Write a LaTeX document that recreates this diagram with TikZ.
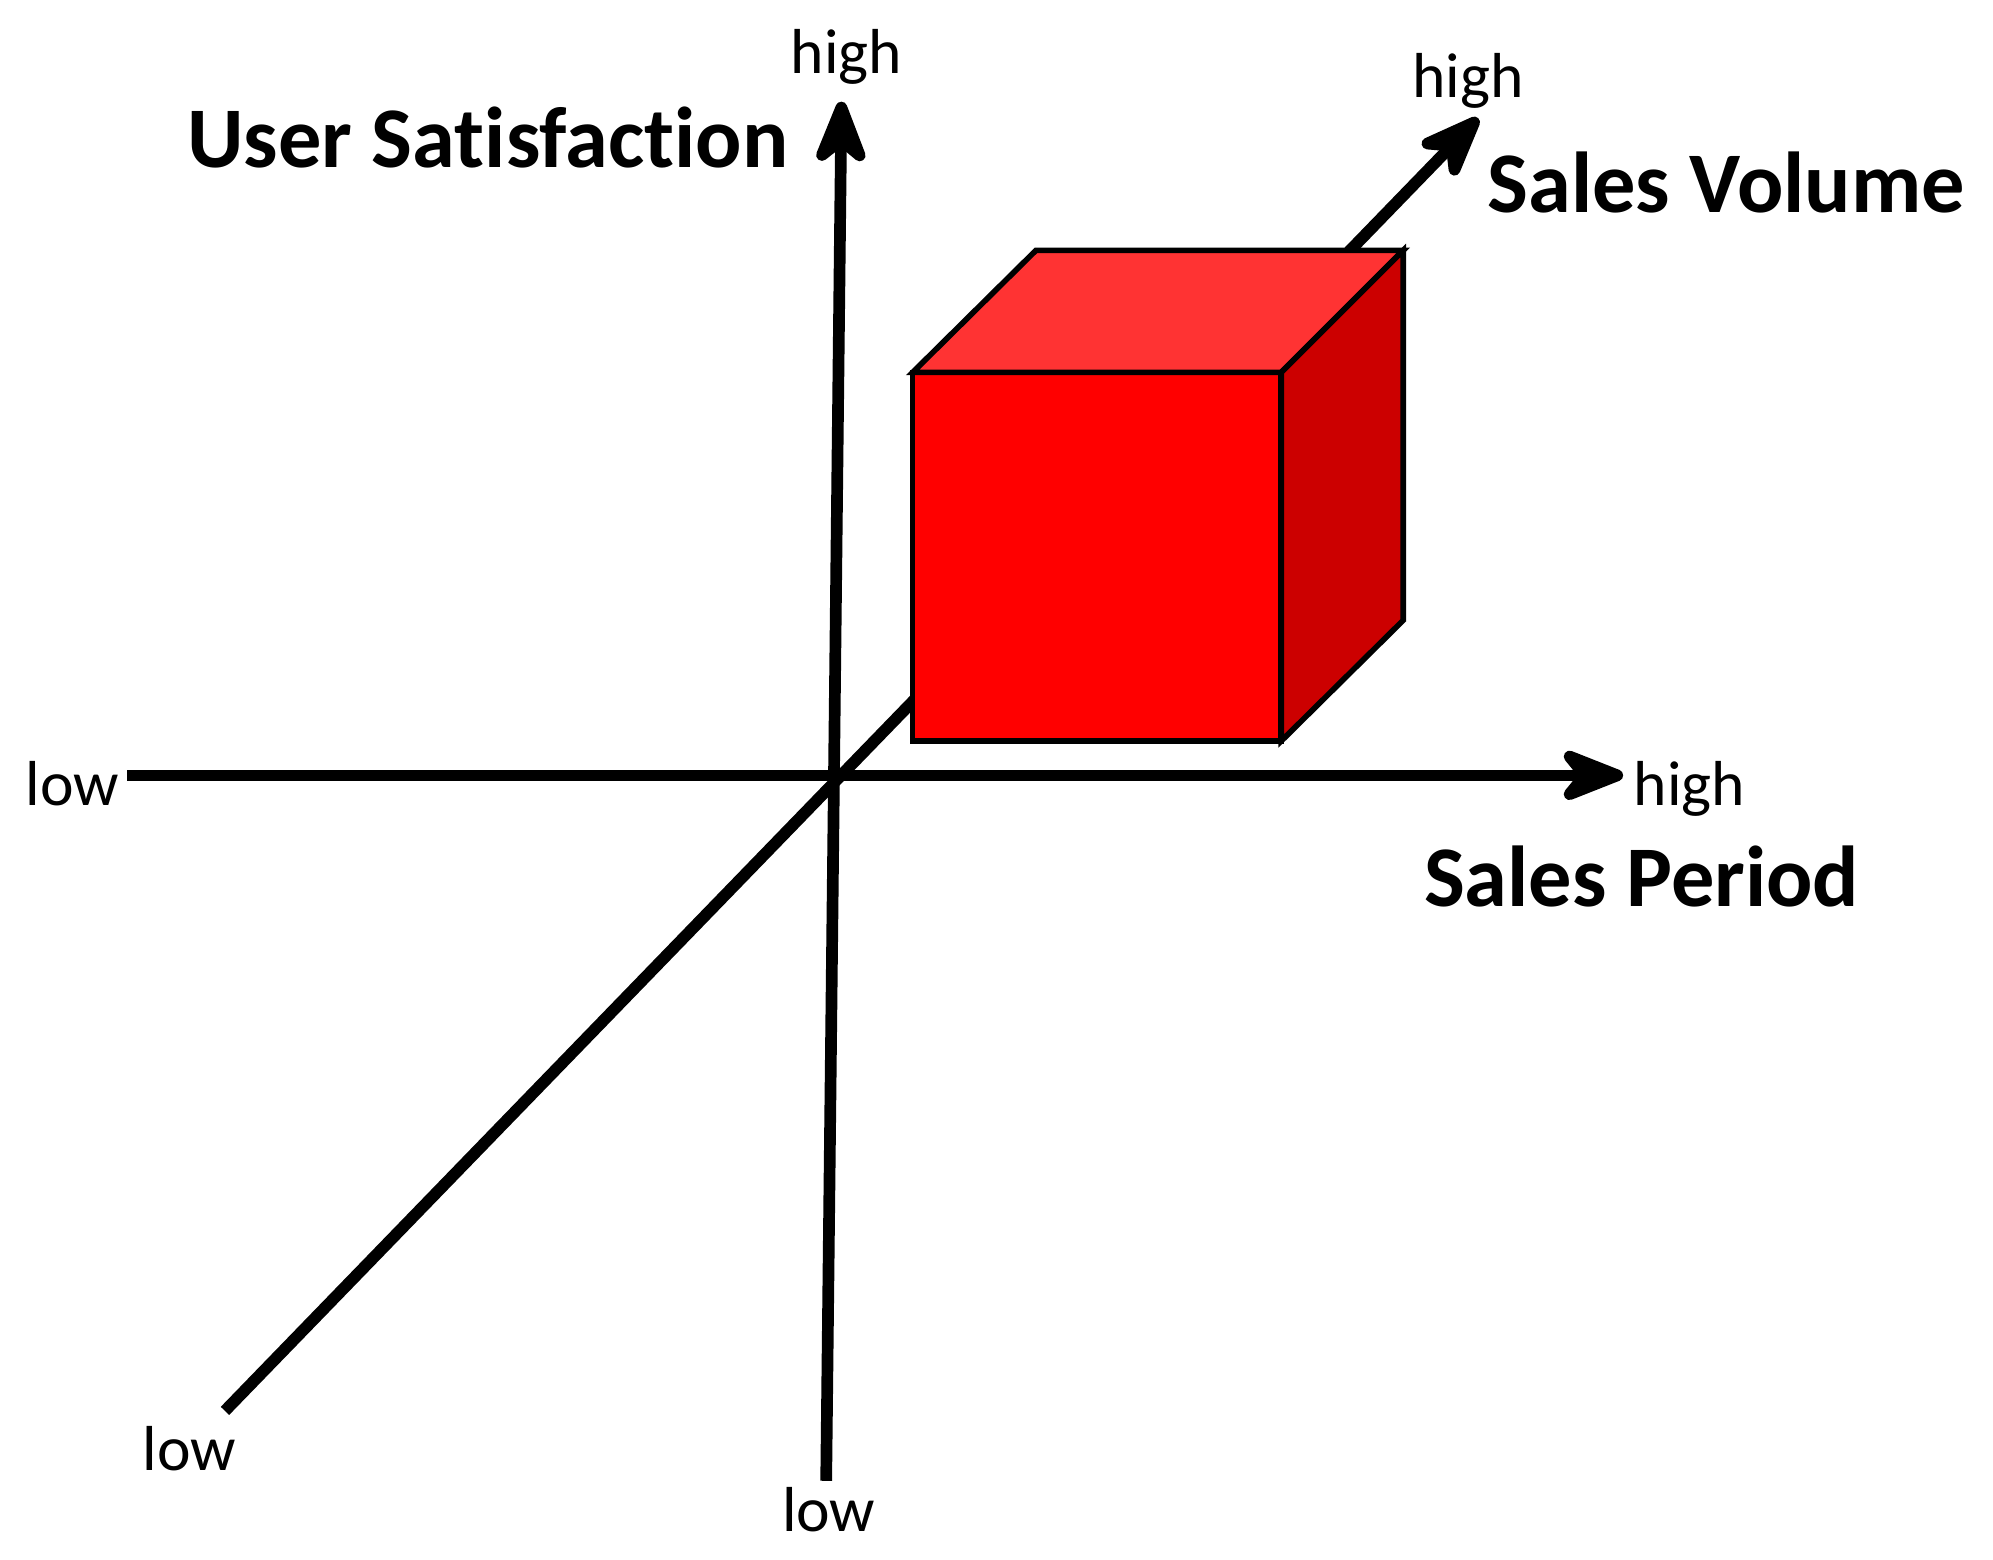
\documentclass[tikz,border=0pt]{standalone}
\usepackage{fontspec}
\setmainfont{Carlito}[RawFeature={-liga;-calt;-dlig}]
\usetikzlibrary{arrows.meta}
\definecolor{frontred}{HTML}{FF0000}
\definecolor{topred}{HTML}{FF3333}
\definecolor{sidered}{HTML}{CC0000}
\begin{document}
\begin{tikzpicture}[x=0.5pt,y=-0.5pt,
  axisline/.style={line width=4.6pt},
  axisarrow/.style={axisline,-{Stealth[length=32pt,width=25pt,inset=10pt,round]}},
  smalllabel/.style={font=\fontsize{25}{30}\selectfont, inner sep=0pt},
  titlelabel/.style={font=\fontsize{34}{40}\selectfont\bfseries, inner sep=0pt},
  cubeface/.style={draw=black, line width=2.2pt, line join=miter}]
\useasboundingbox (0,0) rectangle (1568,1227);
% axis ends
\coordinate (Hlo) at (100,610);
\coordinate (Hhi) at (1277,610);
\coordinate (Vlo) at (650,1165);
\coordinate (Vhi) at (662,80);
\coordinate (Dlo) at (177,1110);
\coordinate (Dhi) at (1163,93);
% diagonal axis (behind the cube)
\draw[axisarrow] (Dlo) -- (Dhi);
% cube
\coordinate (fA) at (718,293);
\coordinate (fB) at (1008,293);
\coordinate (fC) at (1008,583);
\coordinate (fD) at (718,583);
\coordinate (bA) at (815,197);
\coordinate (bB) at (1104,197);
\coordinate (bC) at (1104,488);
\filldraw[cubeface, fill=frontred] (fA) -- (fB) -- (fC) -- (fD) -- cycle;
\filldraw[cubeface, fill=topred] (fA) -- (bA) -- (bB) -- (fB) -- cycle;
\filldraw[cubeface, fill=sidered] (fB) -- (bB) -- (bC) -- (fC) -- cycle;
% other axes
\draw[axisarrow] (Hlo) -- (Hhi);
\draw[axisarrow] (Vlo) -- (Vhi);
% small labels
\node[smalllabel, anchor=base west] (hlow) at (20,634) {low};
\node[smalllabel, anchor=base west] (hhigh) at (1285,634) {high};
\node[smalllabel, anchor=base] (vhigh) at (666,58) {high};
\node[smalllabel, anchor=base] (vlow) at (652,1205) {low};
\node[smalllabel, anchor=base] (dhigh) at (1155,77) {high};
\node[smalllabel, anchor=base] (dlow) at (149,1157) {low};
% titles
\node[titlelabel, anchor=base west] (us) at (147,132) {User Satisfaction};
\node[titlelabel, anchor=base west] (sv) at (1170,167) {Sales Volume};
\node[titlelabel, anchor=base west] (sp) at (1120,713) {Sales Period};
\end{tikzpicture}
\end{document}
